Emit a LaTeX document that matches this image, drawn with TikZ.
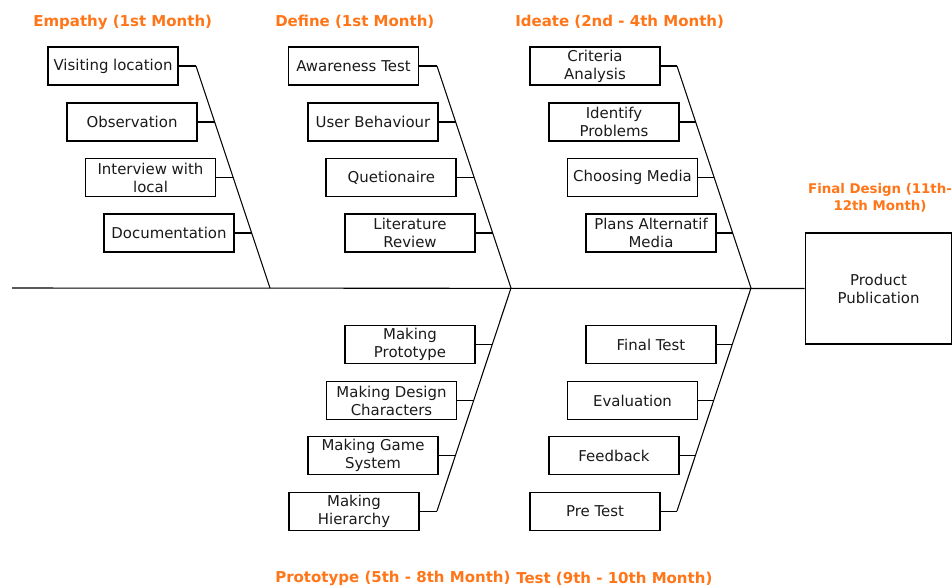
\documentclass[tikz,border=0pt]{standalone}
\usepackage{fontspec}
\setmainfont{DejaVu Sans}
\definecolor{ttl}{RGB}{255,117,24}
\definecolor{txt}{RGB}{26,26,26}
\begin{document}
\begin{tikzpicture}[x=0.75pt,y=-0.75pt,
  box/.style={draw=black, line width=1.3pt, minimum width=97.5pt, minimum height=28.5pt,
    inner sep=0pt, align=center, text=txt, font=\fontsize{11.2}{13.6}\selectfont},
  bigbox/.style={draw=black, line width=1.4pt, minimum width=109.5pt, minimum height=83pt,
    inner sep=0pt, align=center, text=txt, font=\fontsize{11.2}{13.6}\selectfont},
  title/.style={text=ttl, font=\bfseries\fontsize{11.25}{13}\selectfont, inner sep=0pt, anchor=west},
  ftitle/.style={text=ttl, font=\bfseries\fontsize{10}{12.8}\selectfont, inner sep=0pt, align=center},
  bone/.style={line width=0.8pt},
  conn/.style={line width=1.2pt}]
\useasboundingbox (0,0) rectangle (952,586);

% titles
\node[title] (tE) at (33,22) {Empathy (1st Month)};
\node[title] (tD) at (275,22) {Define (1st Month)};
\node[title] (tI) at (515,22) {Ideate (2nd - 4th Month)};
\node[title] (tP) at (275,578.5) {Prototype (5th - 8th Month)};
\node[title] (tT) at (516,578.5) {Test (9th - 10th Month)};
\node[ftitle] (tF) at (880,198) {Final Design (11th-\\12th Month)};

% final box
\node[bigbox] (fin) at (878.5,288.5) {Product\\Publication};

% spine
\coordinate (s0) at (12,288);
\coordinate (jE) at (270,288);
\coordinate (jD) at (511,288);
\coordinate (jI) at (751,288);
\draw[bone] (s0) -- (fin.west);

% bone ends
\coordinate (topE) at (196,66);
\coordinate (topD) at (437,66);
\coordinate (topI) at (677,66);
\coordinate (botP) at (437,511);
\coordinate (botT) at (677,511);
\draw[bone] (topE) -- (jE);
\draw[bone] (topD) -- (jD);
\draw[bone] (topI) -- (jI);
\draw[bone] (jD) -- (botP);
\draw[bone] (jI) -- (botT);

% Empathy
\node[box] (e1) at (113,66) {Visiting location};
\node[box] (e2) at (132,122) {Observation};
\node[box] (e3) at (150.5,177.5) {Interview with\\local};
\node[box] (e4) at (169,233) {Documentation};
\coordinate (pe1) at (196,66);
\coordinate (pe2) at (214.7,122);
\coordinate (pe3) at (233.3,177.5);
\coordinate (pe4) at (251.7,233);

% Define
\node[box] (d1) at (353.5,66) {Awareness Test};
\node[box] (d2) at (373,122) {User Behaviour};
\node[box] (d3) at (391.3,177.5) {Quetionaire};
\node[box] (d4) at (410,233) {Literature\\Review};
\coordinate (pd1) at (437,66);
\coordinate (pd2) at (455.7,122);
\coordinate (pd3) at (474.3,177.5);
\coordinate (pd4) at (492.7,233);

% Ideate
\node[box] (i1) at (595,66) {Criteria\\Analysis};
\node[box] (i2) at (614,122) {Identify\\Problems};
\node[box] (i3) at (632.5,177.5) {Choosing Media};
\node[box] (i4) at (651,233) {Plans Alternatif\\Media};
\coordinate (pi1) at (677,66);
\coordinate (pi2) at (695.7,122);
\coordinate (pi3) at (714.3,177.5);
\coordinate (pi4) at (732.7,233);

% Prototype
\node[box] (p1) at (410,344.5) {Making\\Prototype};
\node[box] (p2) at (391.5,400.5) {Making Design\\Characters};
\node[box] (p3) at (373,455.5) {Making Game\\System};
\node[box] (p4) at (354,511.5) {Making\\Hierarchy};
\coordinate (pp1) at (492.3,344.5);
\coordinate (pp2) at (473.7,400.5);
\coordinate (pp3) at (455.5,455.5);
\coordinate (pp4) at (437,511.5);

% Test
\node[box] (t1) at (651,344.5) {Final Test};
\node[box] (t2) at (632.5,400.5) {Evaluation};
\node[box] (t3) at (614,455.5) {Feedback};
\node[box] (t4) at (595,511.5) {Pre Test};
\coordinate (pt1) at (732.3,344.5);
\coordinate (pt2) at (713.7,400.5);
\coordinate (pt3) at (695.5,455.5);
\coordinate (pt4) at (677,511.5);

\foreach \a/\b in {e1/pe1,e2/pe2,e3/pe3,e4/pe4,d1/pd1,d2/pd2,d3/pd3,d4/pd4,
  i1/pi1,i2/pi2,i3/pi3,i4/pi4,p1/pp1,p2/pp2,p3/pp3,p4/pp4,t1/pt1,t2/pt2,t3/pt3,t4/pt4}
  \draw[conn] (\a.east) -- (\b);
\end{tikzpicture}
\end{document}
